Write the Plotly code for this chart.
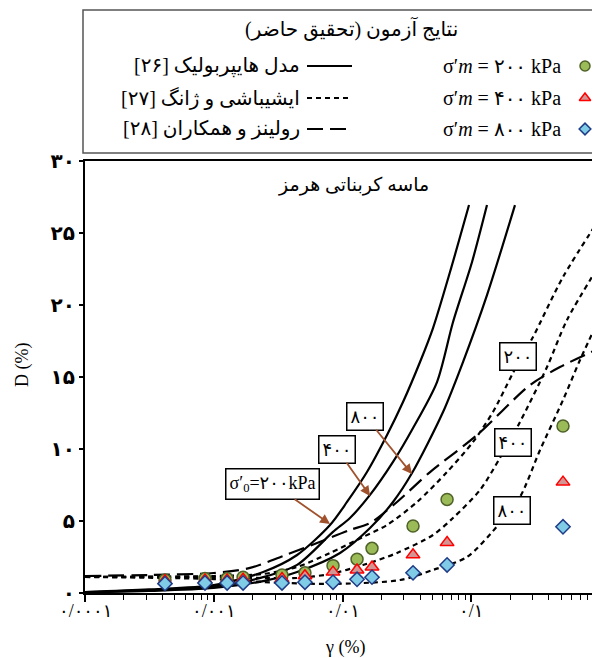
import math
import plotly.graph_objects as go

# ---------------- data ----------------
gamma_test = [0.000418, 0.000855, 0.00127, 0.00169, 0.00339, 0.00511, 0.00844,
              0.01297, 0.01695, 0.0353, 0.0649, 0.516]
D_test_200 = [0.9, 1.0, 1.0, 1.1, 1.25, 1.4, 1.9, 2.35, 3.1, 4.65, 6.5, 11.6]
D_test_400 = [0.85, 0.9, 0.9, 0.95, 1.0, 1.2, 1.45, 1.6, 1.8, 2.65, 3.5, 7.7]
D_test_800 = [0.65, 0.7, 0.7, 0.7, 0.7, 0.75, 0.75, 0.95, 1.1, 1.4, 1.95, 4.6]

# hyperbolic model (solid)
hyp200_g = [0.0001, 0.000314, 0.001, 0.00242, 0.00444, 0.0080, 0.01084, 0.01549,
            0.02218, 0.02951, 0.04, 0.05047, 0.06838, 0.09608]
hyp200_D = [0.07, 0.25, 0.55, 1.46, 2.64, 4.72, 6.32, 8.40, 10.97, 13.26, 16.04,
            18.40, 22.29, 26.94]
hyp400_g = [0.0001, 0.000314, 0.001, 0.00242, 0.00444, 0.00844, 0.01143, 0.01636,
            0.02468, 0.03531, 0.0542, 0.07211, 0.1014, 0.1325]
hyp400_D = [0.06, 0.2, 0.45, 1.1, 1.95, 4.24, 5.21, 6.81, 9.10, 11.46, 14.65,
            18.8, 22.99, 26.94]
hyp800_g = [0.0001, 0.000314, 0.001, 0.00242, 0.00444, 0.00957, 0.01636, 0.02468,
            0.03467, 0.06036, 0.08625, 0.1325, 0.2186]
hyp800_D = [0.05, 0.14, 0.35, 0.83, 1.46, 2.78, 4.51, 6.32, 8.33, 12.57, 16.04,
            20.69, 26.94]

# Ishibashi & Zhang (short dash)
iz200_g = [0.0001, 0.001, 0.00242, 0.00444, 0.0080, 0.01442, 0.02218, 0.03793,
           0.06484, 0.1032, 0.1475, 0.2108, 0.3017, 0.516, 1.0]
iz200_D = [1.11, 1.18, 1.32, 1.81, 2.78, 3.89, 4.72, 6.32, 8.40, 10.49, 12.57,
           15.28, 17.78, 21.94, 26.04]
iz400_g = [0.0001, 0.001, 0.00242, 0.00444, 0.0080, 0.01442, 0.02651, 0.05047,
           0.07211, 0.1169, 0.1671, 0.2392, 0.3877, 0.5543, 1.0]
iz400_D = [1.11, 1.11, 1.04, 1.04, 1.32, 1.94, 2.78, 4.03, 5.21, 7.15, 9.38,
           11.88, 15.69, 18.96, 22.85]
iz800_g = [0.0001, 0.001, 0.00242, 0.0080, 0.02799, 0.05047, 0.09265, 0.1671,
           0.2392, 0.3423, 0.516, 0.6993, 1.0]
iz800_D = [1.11, 0.97, 0.76, 0.63, 0.90, 1.60, 2.50, 4.86, 6.67, 9.93, 13.40,
           16.18, 19.17]

# Rollins et al. (long dash)
rol_g = [0.0001, 0.000314, 0.001, 0.001914, 0.003454, 0.006344, 0.01143, 0.01636,
         0.02651, 0.04786, 0.1109, 0.286, 0.4887, 1.0]
rol_D = [1.18, 1.25, 1.39, 1.74, 2.57, 3.47, 4.38, 4.86, 6.32, 8.40, 10.97, 14.44,
         15.69, 17.01]

x_tickvals = [0.0001, 0.001, 0.01, 0.1, 1]
x_ticktext = ['۰/۰۰۰۱', '۰/۰۰۱', '۰/۰۱', '۰/۱', '۱']
y_tickvals = [0, 5, 10, 15, 20, 25, 30]
y_ticktext = ['۰', '۵', '۱۰', '۱۵', '۲۰', '۲۵', '۳۰']

RLE, PDF = '\u202b', '\u202c'
FONT = 'Liberation Serif, DejaVu Sans, serif'
OFF = 8                 # page body margin of the browser
SW, SH = 600, 658       # screen size
W, H = SW - OFF, SH - OFF

fig = go.Figure()

line_sets = [
    (hyp200_g, hyp200_D, 'solid'), (hyp400_g, hyp400_D, 'solid'), (hyp800_g, hyp800_D, 'solid'),
    (iz200_g, iz200_D, '5px,4px'), (iz400_g, iz400_D, '5px,4px'), (iz800_g, iz800_D, '5px,4px'),
    (rol_g, rol_D, '16px,7px'),
]
for gx, dy, dash in line_sets:
    fig.add_trace(go.Scatter(x=gx, y=dy, mode='lines',
                             line=dict(color='black', width=2.2, dash=dash,
                                       shape='spline', smoothing=0.8),
                             showlegend=False, hoverinfo='skip'))

marker_styles = [
    (D_test_200, dict(symbol='circle', size=12, color='#9BBB59', line=dict(color='#4F6228', width=1.5))),
    (D_test_400, dict(symbol='triangle-up', size=12, color='#D39494', line=dict(color='#FF0000', width=1.5))),
    (D_test_800, dict(symbol='diamond', size=11, color='#80CBE5', line=dict(color='#1F3C88', width=1.5))),
]
for dvals, mk in marker_styles:
    fig.add_trace(go.Scatter(x=gamma_test, y=dvals, mode='markers', marker=mk,
                             showlegend=False, cliponaxis=False))

# legend sample markers (screen-pixel overlay axes)
leg_rows = [66, 98, 129]
for (dvals, mk), ry in zip(marker_styles, leg_rows):
    mk2 = dict(mk)
    mk2['size'] = mk['size'] - 2
    fig.add_trace(go.Scatter(x=[585], y=[ry], mode='markers', marker=mk2,
                             xaxis='x2', yaxis='y2', showlegend=False, cliponaxis=False))


def px(sx):
    return (sx - OFF) / W


def py(sy):
    return 1 - (sy - OFF) / H


shapes = [
    dict(type='rect', xref='paper', yref='paper', x0=px(83), x1=px(640), y0=py(153), y1=py(10),
         line=dict(color='#555555', width=1.5), fillcolor='rgba(0,0,0,0)'),
]
for ry, dash in zip(leg_rows, ['solid', '5px,4px', '16px,7px']):
    shapes.append(dict(type='line', xref='paper', yref='paper', x0=px(307), x1=px(352),
                       y0=py(ry), y1=py(ry), line=dict(color='black', width=2, dash=dash)))


def ptext(text, sx, sy, size, xanchor='center', angle=0):
    return dict(text=text, xref='paper', yref='paper', x=px(sx), y=py(sy),
                xanchor=xanchor, yanchor='middle', textangle=angle, showarrow=False,
                font=dict(size=size, family=FONT, color='black'))


annotations = [ptext(RLE + 'نتایج آزمون (تحقیق حاضر)' + PDF, 352, 28, 20)]
left_texts = ['مدل هایپربولیک [۲۶]', 'ایشیباشی و ژانگ [۲۷]', 'رولینز و همکاران [۲۸]']
right_texts = ['σ′<i>m</i> = ۲۰۰ kPa', 'σ′<i>m</i> = ۴۰۰ kPa', 'σ′<i>m</i> = ۸۰۰ kPa']
for ry, lt, rt in zip(leg_rows, left_texts, right_texts):
    annotations.append(ptext(RLE + lt + PDF, 302, ry, 20, xanchor='right'))
    annotations.append(ptext(rt, 563, ry, 20, xanchor='right'))

annotations.append(ptext(RLE + 'ماسه کربناتی هرمز' + PDF, 353, 185, 19))
annotations.append(ptext('D (%)', 22, 365, 18, angle=-90))
annotations.append(ptext('γ (%)', 345, 647, 18))

# x tick labels placed at the tick values
for v, t in zip(x_tickvals, x_ticktext):
    annotations.append(dict(text=t, x=math.log10(v), xref='x', y=py(611), yref='paper',
                            xanchor='center', yanchor='middle', showarrow=False,
                            font=dict(size=18, family=FONT, color='black')))

# curve labels (data coords; log axis uses log10 for x)
arrow_labels = [
    ('۸۰۰', -1.825, 12.29, -1.460, 8.26),
    ('۴۰۰', -2.043, 10.0, -1.786, 6.74),
    ('σ′<sub>0</sub>=۲۰۰kPa', -2.540, 7.57, -2.097, 4.79),
]
for txt, bx, by, tx, ty in arrow_labels:
    annotations.append(dict(text=txt, x=tx, y=ty, ax=bx, ay=by, xref='x', yref='y',
                            axref='x', ayref='y', showarrow=True, arrowhead=2, arrowsize=1.1,
                            arrowwidth=1.8, arrowcolor='#A0522D', standoff=0,
                            bgcolor='white', bordercolor='black', borderwidth=1.5, borderpad=3,
                            font=dict(size=18, family=FONT, color='black')))
box_labels = [('۲۰۰', -0.637, 16.39), ('۴۰۰', -0.676, 10.42), ('۸۰۰', -0.684, 5.76)]
for txt, bx, by in box_labels:
    annotations.append(dict(text=txt, x=bx, y=by, xref='x', yref='y', showarrow=False,
                            bgcolor='white', bordercolor='black', borderwidth=1.5, borderpad=3,
                            font=dict(size=18, family=FONT, color='black')))

minor_vals = [m * 10 ** e for e in range(-4, 0) for m in range(2, 10)]

fig.update_layout(
    template='none',
    width=W, height=H, margin=dict(l=0, r=0, t=0, b=0, pad=0, autoexpand=False),
    paper_bgcolor='white', plot_bgcolor='rgba(0,0,0,0)',
    showlegend=False,
    font=dict(family=FONT, color='black'),
    xaxis=dict(type='log', range=[-4, 0], domain=[px(85), 1], anchor='y', automargin=False,
               showline=True, linecolor='black', linewidth=2, mirror=True,
               ticks='outside', ticklen=7, tickwidth=1.5, tickcolor='black',
               tickvals=x_tickvals, showticklabels=False,
               minor=dict(ticks='outside', ticklen=5, tickwidth=1.2, tickcolor='black',
                          tickvals=minor_vals, showgrid=False),
               showgrid=False, zeroline=False),
    yaxis=dict(range=[0, 30], domain=[py(593), py(161)], anchor='x', automargin=False,
               showline=True, linecolor='black', linewidth=2,
               ticks='outside', ticklen=4, tickwidth=1.5, tickcolor='black',
               tickvals=y_tickvals, ticktext=y_ticktext,
               tickfont=dict(size=20, family=FONT, color='black', weight='bold'),
               showgrid=False, zeroline=False),
    xaxis2=dict(range=[OFF, SW], domain=[0, 1], anchor='y2', visible=False, fixedrange=True,
                automargin=False),
    yaxis2=dict(range=[SH, OFF], domain=[0, 1], anchor='x2', visible=False, fixedrange=True,
                automargin=False),
    shapes=shapes, annotations=annotations,
)

fig.write_html('out.html')
